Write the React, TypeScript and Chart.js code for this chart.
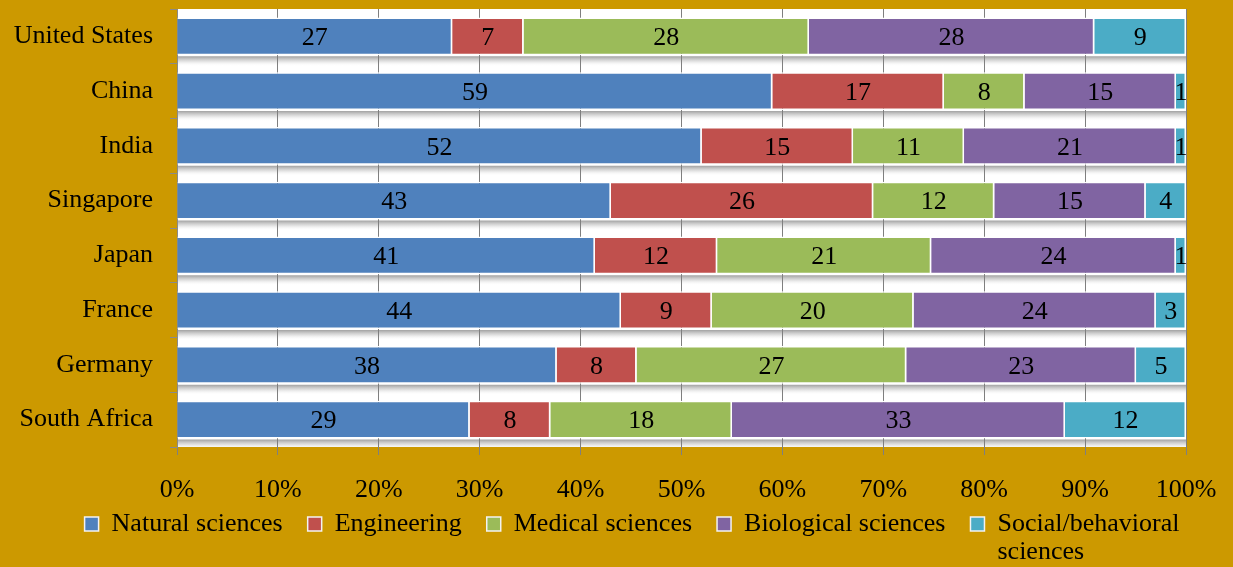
import React, { useEffect, useRef } from "react";
import { Chart, registerables } from "chart.js";

Chart.register(...registerables);

const countries = ["United States", "China", "India", "Singapore", "Japan", "France", "Germany", "South Africa"];
const seriesNames = ["Natural sciences", "Engineering", "Medical sciences", "Biological sciences", "Social/behavioral sciences"];
const natural = [27, 59, 52, 43, 41, 44, 38, 29];
const engineering = [7, 17, 15, 26, 12, 9, 8, 8];
const medical = [28, 8, 11, 12, 21, 20, 27, 18];
const biological = [28, 15, 21, 15, 24, 24, 23, 33];
const social = [9, 1, 1, 4, 1, 3, 5, 12];
const seriesColors = ["#4F81BD", "#C0504D", "#9BBB59", "#8064A2", "#4BACC6"];
// legend text for the last series is split over two lines
const legendFirstLine = "Social/behavioral";
const legendSecondLine = "sciences";

const FONT = "'Liberation Serif', 'Times New Roman', serif";
const BG = "#CC9900";
const FS = 26;

const rawSeries = [natural, engineering, medical, biological, social];
const totals = countries.map((_, j) => rawSeries.reduce((s, arr) => s + arr[j], 0));

const plotBgPlugin = {
  id: "plotBg",
  afterLayout(chart: any) {
    const lg = chart.legend;
    if (lg) {
      lg.left += 32;
      lg.right += 32;
      lg.top -= 20;
      lg.bottom -= 20;
    }
  },
  beforeDraw(chart: any) {
    const { ctx, chartArea } = chart;
    ctx.save();
    ctx.fillStyle = "#ffffff";
    ctx.fillRect(chartArea.left, chartArea.top, chartArea.right - chartArea.left, chartArea.bottom - chartArea.top);
    const meta = chart.getDatasetMeta(0);
    meta.data.forEach((el: any) => {
      const { y, height } = el.getProps(["y", "height"], true);
      const top = y + height / 2 + 1;
      const g = ctx.createLinearGradient(0, top, 0, top + 10);
      g.addColorStop(0, "rgba(150,150,150,0.9)");
      g.addColorStop(0.5, "rgba(205,205,205,0.6)");
      g.addColorStop(1, "rgba(255,255,255,0)");
      ctx.fillStyle = g;
      ctx.fillRect(chartArea.left, top, chartArea.right - chartArea.left, Math.min(10, chartArea.bottom - top));
    });
    ctx.restore();
  },
  afterDraw(chart: any) {
    const lg = chart.legend;
    if (!lg || !lg.legendHitBoxes) return;
    const idx = lg.legendItems.findIndex((it: any) => it.text === legendFirstLine);
    const hb = lg.legendHitBoxes[idx];
    if (!hb) return;
    const { ctx } = chart;
    ctx.save();
    ctx.font = `${FS}px ${FONT}`;
    ctx.fillStyle = "#000000";
    ctx.textAlign = "left";
    ctx.textBaseline = "middle";
    ctx.fillText(legendSecondLine, hb.left + 14 + FS / 2, hb.top + hb.height / 2 + 28);
    ctx.restore();
  },
};

const valueLabelPlugin = {
  id: "valueLabels",
  afterDatasetsDraw(chart: any) {
    const { ctx } = chart;
    ctx.save();
    ctx.font = `${FS}px ${FONT}`;
    ctx.fillStyle = "#000000";
    ctx.textAlign = "center";
    ctx.textBaseline = "middle";
    rawSeries.forEach((arr, i) => {
      const meta = chart.getDatasetMeta(i);
      meta.data.forEach((el: any, j: number) => {
        const { x, base, y } = el.getProps(["x", "base", "y"], true);
        ctx.fillText(String(arr[j]), (x + base) / 2, y + 2);
      });
    });
    ctx.restore();
  },
};

export default function App() {
  const canvasRef = useRef<HTMLCanvasElement | null>(null);

  useEffect(() => {
    document.body.style.margin = "0";
    const canvas = canvasRef.current;
    if (!canvas) return;
    const chart = new Chart(canvas, {
      type: "bar",
      data: {
        labels: countries,
        datasets: rawSeries.map((arr, i) => ({
          label: seriesNames[i],
          data: arr.map((v, j) => (v / totals[j]) * 100),
          backgroundColor: seriesColors[i],
          borderColor: "#ffffff",
          borderWidth: 1.5,
          barPercentage: 0.69,
          categoryPercentage: 1,
        })),
      },
      options: {
        indexAxis: "y",
        responsive: false,
        animation: false,
        layout: { padding: { top: 9, right: 47, left: 14, bottom: 0 } },
        scales: {
          x: {
            stacked: true,
            min: 0,
            max: 100,
            afterFit: (scale: any) => {
              scale.paddingRight = 0;
              scale.paddingLeft = 0;
              scale.height = 59;
            },
            ticks: {
              stepSize: 10,
              callback: (v: any) => `${v}%`,
              font: { family: FONT, size: FS },
              color: "#000000",
              padding: 20,
              maxRotation: 0,
            },
            grid: { color: "#7f7f7f", tickLength: 8, lineWidth: 1 },
            border: { display: false },
          },
          y: {
            stacked: true,
            afterFit: (scale: any) => {
              scale.paddingTop = 0;
              scale.paddingBottom = 0;
              scale.width = 163;
            },
            ticks: {
              font: { family: FONT, size: FS },
              color: "#000000",
              padding: 17,
            },
            grid: { offset: true, drawOnChartArea: false, tickLength: 7, color: "#8a8a8a" },
            border: { display: true, color: "#8a8a8a" },
          },
        },
        plugins: {
          tooltip: { enabled: false },
          legend: {
            position: "bottom",
            labels: {
              boxWidth: 14,
              boxHeight: 14,
              padding: 25,
              color: "#000000",
              font: { family: FONT, size: FS },
              generateLabels: (c: any) => {
                const items = Chart.defaults.plugins.legend.labels.generateLabels(c);
                items.forEach((it: any) => {
                  if (it.text === seriesNames[4]) it.text = legendFirstLine;
                  it.strokeStyle = "#f2f2f2";
                  it.lineWidth = 1.5;
                });
                return items;
              },
            },
          },
        },
      },
      plugins: [plotBgPlugin, valueLabelPlugin],
    } as any);
    return () => chart.destroy();
  }, []);

  return (
    <div style={{ position: "fixed", left: 0, top: 0, width: 1233, height: 567, background: BG }}>
      <canvas ref={canvasRef} width={1233} height={567} style={{ display: "block" }} />
    </div>
  );
}
